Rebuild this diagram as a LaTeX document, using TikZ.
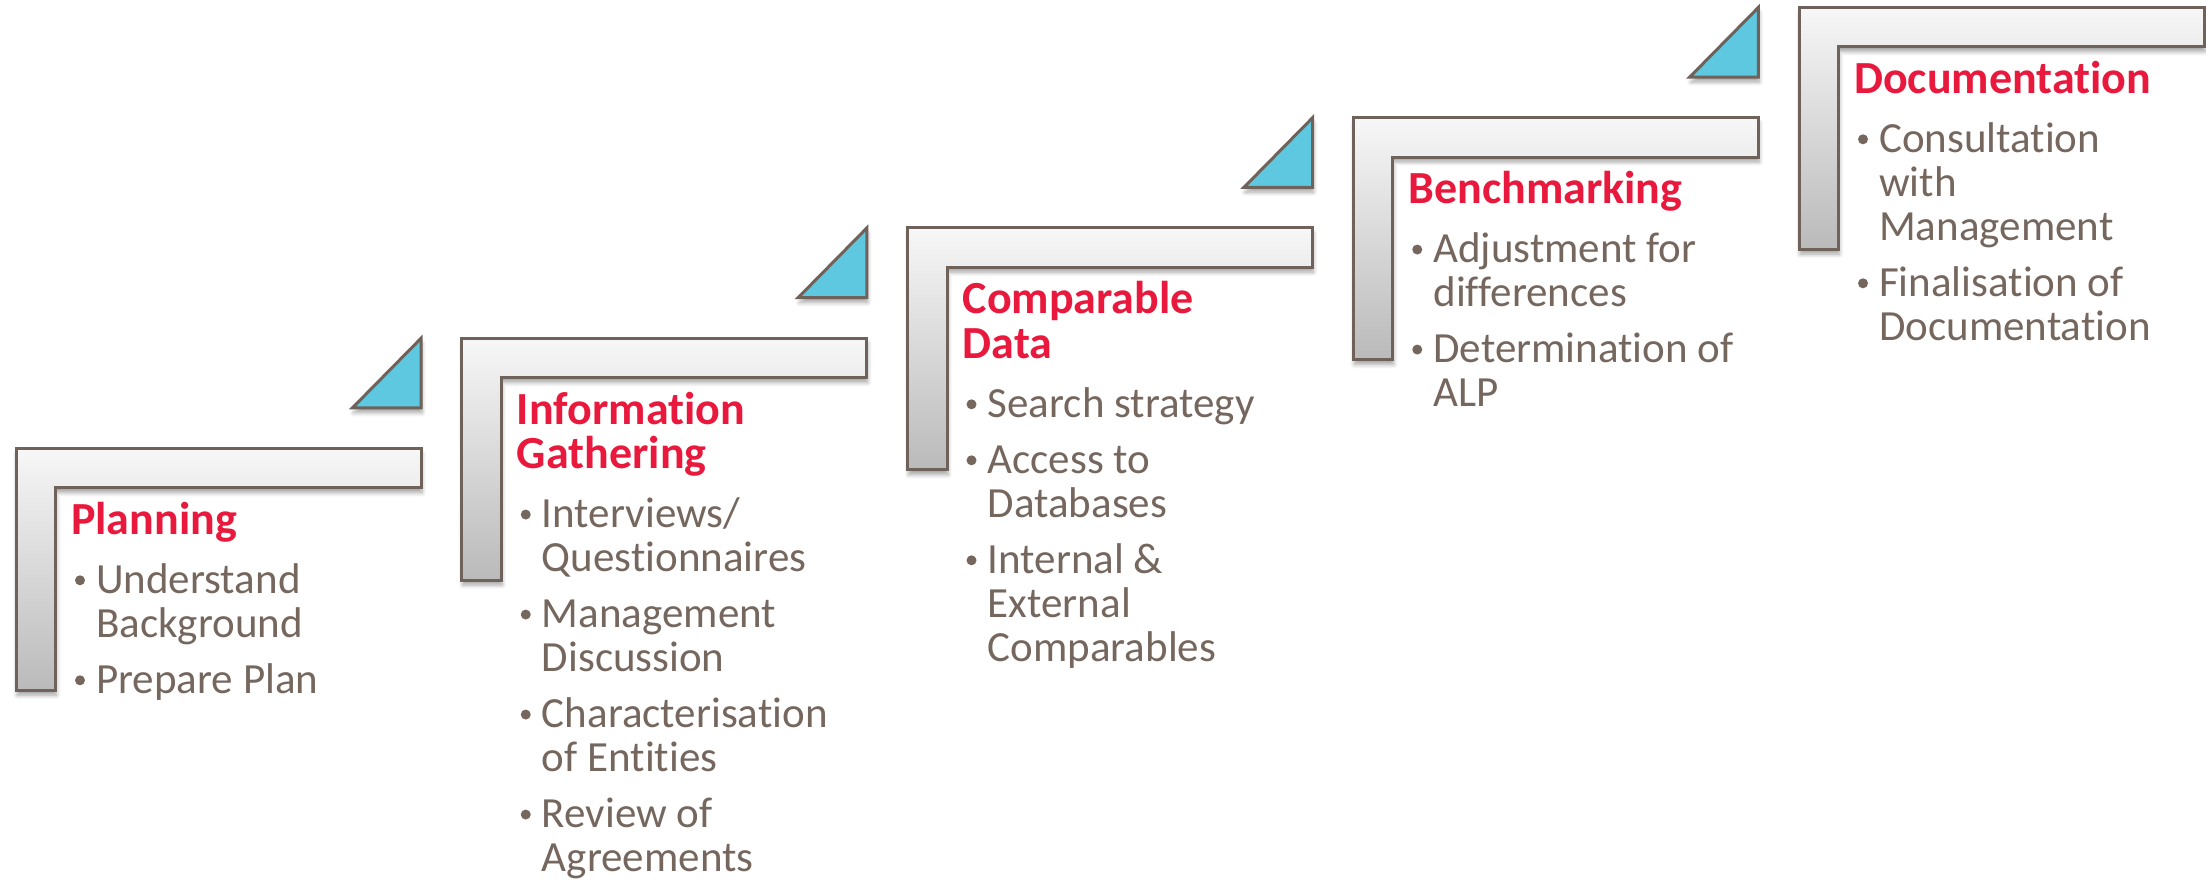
\documentclass[tikz,border=0pt]{standalone}
\usepackage{fontspec}
\setmainfont[Ligatures=NoCommon]{Carlito}
\usetikzlibrary{shadows.blur}

\definecolor{edge}{HTML}{6E625A}
\definecolor{txt}{HTML}{75675E}
\definecolor{ttlred}{HTML}{E8193C}
\definecolor{tri}{HTML}{5EC8E0}
\definecolor{barlight}{HTML}{F7F7F7}
\definecolor{barmid}{HTML}{E4E4E4}
\definecolor{bardark}{HTML}{BABABA}

\tikzset{
  softshadow/.style={blur shadow={shadow xshift=1pt, shadow yshift=-5pt,
      shadow blur radius=4pt, shadow blur steps=6, shadow opacity=35}},
  lbar/.style={draw=edge, line width=3pt, line join=miter,
      top color=barlight, middle color=barmid, bottom color=bardark, softshadow},
  wedge/.style={draw=edge, line width=3pt, line join=miter, fill=tri, softshadow},
  ttl/.style={anchor=base west, inner sep=0pt, text=ttlred,
      font=\fontsize{46}{46}\selectfont\bfseries},
  itm/.style={anchor=base west, inner sep=0pt, text=txt,
      font=\fontsize{43}{44}\selectfont},
  dot/.style={circle, fill=txt, inner sep=0pt, minimum size=10pt}
}

% one step: L-shaped bar of the staircase, with its wedge above the right end
\newcommand\stairstep[1]{%
  \path[lbar] (0,0) -- (405,0) -- (405,39.5) -- (39.5,39.5) -- (39.5,242) -- (0,242) -- cycle;
  \ifnum#1=1 \path[wedge] (405,-110) -- (405,-40.5) -- (336.5,-40.5) -- cycle;\fi
}

\begin{document}
\begin{tikzpicture}[x=1pt,y=-1pt]
\useasboundingbox (0,0) rectangle (2206,879);

% Step 1
\begin{scope}[shift={(16,448.3)}]
  \stairstep{1}
  \node[ttl] (s1t) at (55,86) {Planning};
  \node[dot] (s1d1) at (64,132) {};
  \node[itm] (s1a) at (80,145) {Understand};
  \node[itm] (s1b) at (80,189) {Background};
  \node[dot] (s1d2) at (64,232) {};
  \node[itm] (s1c) at (80,245) {Prepare Plan};
\end{scope}

% Step 2
\begin{scope}[shift={(461.75,338.05)}]
  \stairstep{1}
  \node[ttl] (s2t) at (55,86) {Information};
  \node[ttl] (s2u) at (55,130.5) {Gathering};
  \node[dot] (s2d1) at (64,176.5) {};
  \node[itm] (s2a) at (80,189.5) {Interviews/};
  \node[itm] (s2b) at (80,233.5) {Questionnaires};
  \node[dot] (s2d2) at (64,276.5) {};
  \node[itm] (s2c) at (80,289.5) {Management};
  \node[itm] (s2e) at (80,333.5) {Discussion};
  \node[dot] (s2d3) at (64,376.5) {};
  \node[itm] (s2f) at (80,389.5) {Characterisation};
  \node[itm] (s2g) at (80,433.5) {of Entities};
  \node[dot] (s2d4) at (64,476.5) {};
  \node[itm] (s2h) at (80,489.5) {Review of};
  \node[itm] (s2i) at (80,533.5) {Agreements};
\end{scope}

% Step 3
\begin{scope}[shift={(907.5,227.8)}]
  \stairstep{1}
  \node[ttl] (s3t) at (55,86) {Comparable};
  \node[ttl] (s3u) at (55,130.5) {Data};
  \node[dot] (s3d1) at (64,176.5) {};
  \node[itm] (s3a) at (80,189.5) {Search strategy};
  \node[dot] (s3d2) at (64,232.5) {};
  \node[itm] (s3b) at (80,245.5) {Access to};
  \node[itm] (s3c) at (80,289.5) {Databases};
  \node[dot] (s3d3) at (64,332.5) {};
  \node[itm] (s3e) at (80,345.5) {Internal \&};
  \node[itm] (s3f) at (80,389.5) {External};
  \node[itm] (s3g) at (80,433.5) {Comparables};
\end{scope}

% Step 4
\begin{scope}[shift={(1353.25,117.55)}]
  \stairstep{1}
  \node[ttl] (s4t) at (55,86) {Benchmarking};
  \node[dot] (s4d1) at (64,132) {};
  \node[itm] (s4a) at (80,145) {Adjustment for};
  \node[itm] (s4b) at (80,189) {differences};
  \node[dot] (s4d2) at (64,232) {};
  \node[itm] (s4c) at (80,245) {Determination of};
  \node[itm] (s4e) at (80,289) {ALP};
\end{scope}

% Step 5
\begin{scope}[shift={(1799,7.3)}]
  \stairstep{0}
  \node[ttl] (s5t) at (55,86) {Documentation};
  \node[dot] (s5d1) at (64,132) {};
  \node[itm] (s5a) at (80,145) {Consultation};
  \node[itm] (s5b) at (80,189) {with};
  \node[itm] (s5c) at (80,233) {Management};
  \node[dot] (s5d2) at (64,276) {};
  \node[itm] (s5e) at (80,289) {Finalisation of};
  \node[itm] (s5f) at (80,333) {Documentation};
\end{scope}
\end{tikzpicture}
\end{document}
